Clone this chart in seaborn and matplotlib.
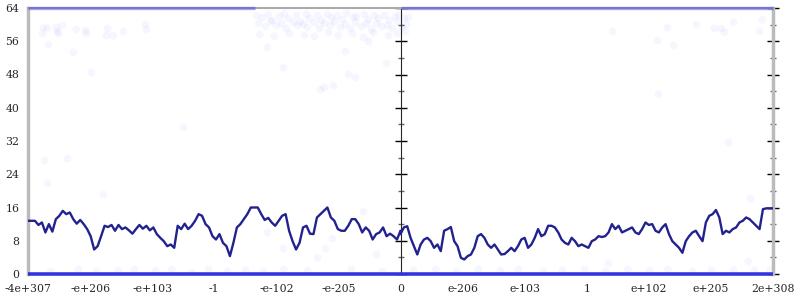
import numpy as np
import pandas as pd
import matplotlib
matplotlib.use("Agg")
import matplotlib.pyplot as plt
import seaborn as sns

# ---------------- data ----------------
tick_labels = ["-4e+307", "-e+206", "-e+103", "-1", "-e-102", "-e-205", "0",
               "e-206", "e-103", "1", "e+102", "e+205", "2e+308"]
y_ticks = [0, 8, 16, 24, 32, 40, 48, 56, 64]

line_left = [12.8, 12.8, 12.8, 11.8, 12.4, 10, 12, 10.2, 13.2, 14, 15.2, 14.4, 14.8, 13.2,
             12.1, 13, 12, 10.8, 9.1, 5.9, 6.7, 9.1, 11.6, 11.3, 11.8, 10.4, 11.8, 10.8,
             11.2, 10.5, 9.7, 10.8, 11.8, 10.9, 11.6, 10.5, 11.2, 9.6, 8.7, 7.9, 6.7, 7.1,
             6.3, 11.6, 10.8, 12.1, 10.8, 11.6, 12.8, 14.4, 14, 12, 11.2, 9.1, 8.3, 9.6,
             7.5, 6.7, 4.3, 7.5, 11.2, 12, 13.2, 14.4, 16, 16, 16, 14.4, 13, 13.5, 12.4,
             11.6, 12.8, 14, 14.4, 10.4, 7.9, 5.9, 7.5, 11.2, 11.6, 9.7, 9.6, 13.6, 14.4,
             15.2, 16, 13.6, 12.8, 10.8, 10.4, 10.4, 11.6, 13.2, 13.2, 12, 10, 11.2, 10.4,
             8.3, 9.6, 10, 11.2, 9.1, 9.7, 9.1, 8.3, 10.4]
line_right = [9.6, 11.2, 11.5, 8.7, 6.7, 4.7, 7.1, 8.3, 8.7, 7.9, 6.3, 7.1, 5.5, 10.4, 10.8,
              11.3, 7.9, 6.7, 3.9, 3.5, 4.3, 4.7, 6.3, 9.1, 9.6, 8.7, 7.1, 6.3, 7.1, 5.9,
              4.7, 4.8, 5.5, 6.3, 5.5, 6.7, 8.3, 8.7, 6.3, 7.1, 8.7, 10.8, 9.1, 9.6, 11.6,
              11.6, 11.2, 10, 8.3, 7.5, 7.1, 8.7, 7.9, 6.7, 7.1, 6.7, 6.3, 7.9, 8.3, 9.1,
              8.9, 9.1, 10, 12, 10.8, 11.6, 10, 10.4, 10.8, 11.2, 10, 9.6, 10.8, 12.4, 11.8,
              12, 10.4, 10, 11.2, 12, 9.6, 7.9, 7.1, 6.3, 5.1, 7.9, 9.1, 10, 10.4, 9.1, 7.9,
              12.4, 14, 14.4, 15.4, 13.6, 9.6, 10.4, 10, 10.8, 11.2, 12.4, 12.8, 13.6, 13.2,
              12.4, 11.6, 10.8, 15.6, 15.8, 15.8, 15.8]

# scattered faint points (x in tick-index units, y in bits)
sparse_x = [0.24, 0.31, 0.23, 0.45, 0.47, 0.48, 0.55, 0.32, 0.77, 0.92, 0.94, 0.73, 1.02,
            1.27, 1.26, 1.37, 1.53, 1.89, 1.90, 9.40, 10.29, 10.13, 10.39, 10.76, 11.05,
            11.16, 11.21, 11.35, 11.77, 11.82, 10.15, 0.26, 0.63, 0.31, 1.21, 2.5, 11.27,
            11.63, 3.85, 5.11, 5.77, 5.48, 4.11, 5.16, 5.26, 4.71, 4.77, 4.92, 5.39, 3.85,
            4.1, 4.66, 4.79, 5.6, 4.89, 9.35, 11.6]
sparse_y = [59.4, 59.2, 58, 59.4, 58.5, 58, 59.9, 55.3, 59, 58.7, 58, 53.4, 48.6, 59.2,
            57.5, 57.5, 58.5, 60.2, 59, 58.5, 59.4, 56.3, 55.1, 60.2, 59.2, 59.2, 58.2,
            60.6, 58.5, 61.4, 43.3, 27.4, 27.9, 21.9, 19.2, 35.4, 31.8, 18.3, 54.6, 53.7,
            50.8, 56.1, 49.8, 48.1, 47.4, 44.5, 45, 45.5, 15.2, 10.1, 6.3, 4.1, 6.3, 4.8,
            8.7, 2.6, 3.1]

cloud_x = [3.68, 3.77, 3.86, 3.93, 4.04, 4.12, 4.19, 4.31, 4.38, 4.47, 4.53, 4.66, 4.72,
           4.81, 4.88, 4.97, 5.06, 5.13, 5.24, 5.29, 5.41, 5.47, 5.58, 5.63, 5.74, 5.82,
           5.91, 5.97, 6.05, 6.12,
           3.71, 3.82, 3.9, 4.0, 4.08, 4.16, 4.27, 4.34, 4.43, 4.5, 4.61, 4.69, 4.77, 4.86,
           4.93, 5.02, 5.1, 5.18, 5.27, 5.36, 5.44, 5.52, 5.61, 5.69, 5.78, 5.86, 5.94,
           6.02, 6.09,
           3.72, 3.96, 4.21, 4.45, 4.6, 4.83, 5.0, 5.22, 5.39, 5.55, 5.8, 5.95, 6.08]
cloud_y = [62.4, 61.8, 62.6, 61.2, 62.1, 62.8, 61.5, 62.3, 60.9, 62.5, 61.7, 62.2, 61.0,
           62.6, 61.9, 62.3, 61.4, 62.7, 61.8, 62.0, 62.5, 61.3, 62.2, 61.6, 62.4, 61.1,
           62.0, 62.6, 61.5, 61.9,
           60.3, 59.6, 60.8, 59.9, 60.5, 59.2, 60.6, 59.8, 60.2, 59.4, 60.7, 59.1, 60.4,
           59.9, 60.9, 59.5, 60.1, 59.3, 60.6, 59.7, 60.3, 59.0, 60.5, 59.6, 60.0, 59.2,
           60.8, 59.4, 60.2,
           57.8, 57.3, 58.1, 57.6, 57.2, 58.3, 57.5, 57.9, 57.1, 58.2, 57.4, 57.9, 58.4]

haze_x = [0.35, 0.8, 1.1, 1.45, 1.7, 2.05, 2.3, 2.62, 2.9, 3.2, 3.5, 3.78, 4.1, 4.5, 5.2,
          5.7, 6.2, 6.55, 6.9, 7.25, 7.6, 7.9, 8.3, 8.6, 8.95, 9.3, 9.65, 10.0, 10.3,
          10.7, 11.0, 11.35, 11.7, 11.95]
haze_y = [0.8, 1.2, 0.7, 1.0, 1.3, 0.9, 1.1, 0.6, 1.2, 0.8, 1.0, 0.7, 1.3, 0.9, 1.1,
          0.8, 1.0, 1.2, 0.7, 1.1, 0.9, 1.3, 0.8, 1.0, 1.2, 0.7, 1.1, 0.9, 1.2, 0.8,
          1.0, 1.3, 0.9, 1.1]

# rows of saturated points at 0 and 64 bits: (start, end) spans
top_row_spans = [(0.0, 3.65), (6.0, 12.0)]
bottom_row_spans = [(0.0, 12.0)]

# ---------------- figure ----------------
sns.set_style("white")
plt.rcParams["font.family"] = ["DejaVu Serif"]

fig = plt.figure(figsize=(8, 3), dpi=100)
ax = fig.add_axes([28 / 800, 1 - 274 / 300, (773 - 28) / 800, (274 - 8) / 300])

n_l, n_r = len(line_left), len(line_right)
line_df = pd.DataFrame({
    "x": np.concatenate([np.linspace(0, 6, n_l), np.linspace(6, 12, n_r)]),
    "y": line_left + line_right,
})

pts = pd.DataFrame({"x": sparse_x + cloud_x + haze_x,
                    "y": sparse_y + cloud_y + haze_y})

# rows at 0 and 64
for a, b in top_row_spans:
    ax.hlines(64, a, b, color="#3a3af0", alpha=0.45, lw=2.4, zorder=3, clip_on=False)
for a, b in bottom_row_spans:
    ax.hlines(0, a, b, color="#2525e0", alpha=0.9, lw=2.6, zorder=3, clip_on=False)

sns.scatterplot(data=pts, x="x", y="y", ax=ax, color="#3333ff", alpha=0.045, s=30,
                linewidth=0, zorder=2, legend=False)
sns.lineplot(data=line_df, x="x", y="y", ax=ax, color="#22228f", lw=1.7, zorder=4,
             estimator=None, sort=False)

ax.set_xlim(0, 12)
ax.set_ylim(0, 64)
ax.set_xlabel("")
ax.set_ylabel("")

ax.set_xticks(range(len(tick_labels)))
ax.set_xticklabels(tick_labels, fontsize=7.8)
ax.set_yticks(y_ticks)
ax.set_yticklabels([str(v) for v in y_ticks], fontsize=7.8)
ax.set_yticks([v + 4 for v in y_ticks[:-1]], minor=True)

ax.tick_params(axis="x", direction="inout", length=9, width=1, color="black", pad=3)
ax.tick_params(axis="y", which="major", direction="inout", length=8.5, width=1,
               color="black", pad=2, right=True)
ax.tick_params(axis="y", which="minor", direction="inout", length=4, width=1,
               color="#666666", right=True)

for side in ["left", "right"]:
    ax.spines[side].set_color("#bbbbbb")
    ax.spines[side].set_linewidth(2.5)
ax.spines["top"].set_color("#aaaaaa")
ax.spines["top"].set_linewidth(1.5)
ax.spines["bottom"].set_color("#bbbbbb")
ax.spines["bottom"].set_linewidth(1.5)

# central axis at 0
mid = ax.secondary_yaxis(0.5)
mid.spines["left"].set_color("#bbbbbb")
mid.spines["left"].set_linewidth(2.5)
mid.set_yticks(y_ticks)
mid.set_yticklabels([])
mid.set_yticks([v + 4 for v in y_ticks[:-1]], minor=True)
mid.tick_params(axis="y", which="major", direction="inout", length=8.5, width=1,
                color="black")
mid.tick_params(axis="y", which="minor", direction="inout", length=4, width=1,
                color="#666666")

fig.savefig("out.png", dpi=100)
